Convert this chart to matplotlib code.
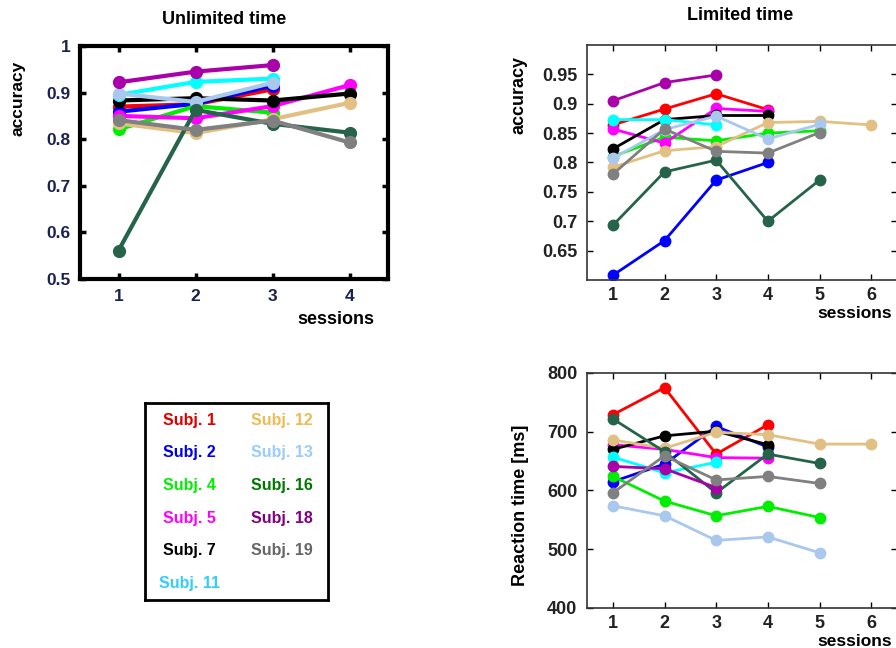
import matplotlib
matplotlib.use("Agg")
import matplotlib.pyplot as plt

plt.rcParams['font.family'] = ['Liberation Sans', 'DejaVu Sans']
plt.rcParams['font.weight'] = 'bold'

subjects = ["Subj. 1", "Subj. 2", "Subj. 4", "Subj. 5", "Subj. 7", "Subj. 11",
            "Subj. 12", "Subj. 13", "Subj. 16", "Subj. 18", "Subj. 19"]
line_colors = ["#ff0000", "#0000ff", "#00ee00", "#ff00ff", "#000000", "#00ffff",
               "#e2c084", "#a8c8ee", "#25644a", "#aa00aa", "#808080"]
legend_colors = ["#dd0000", "#0000ee", "#00ee00", "#ff00ff", "#000000", "#33ccff",
                 "#eebb55", "#99ccff", "#007700", "#800080", "#666666"]

# accuracy, unlimited time
acc_unlimited = [
    [0.870, 0.875, 0.907],
    [0.859, 0.876, 0.915],
    [0.821, 0.871, 0.857],
    [0.850, 0.845, 0.871, 0.916],
    [0.883, 0.888, 0.883, 0.898],
    [0.895, 0.923, 0.930],
    [0.834, 0.813, 0.843, 0.878],
    [0.898, 0.880, 0.921],
    [0.561, 0.863, 0.833, 0.814],
    [0.922, 0.945, 0.959],
    [0.841, 0.820, 0.840, 0.793],
]

# accuracy, limited time
acc_limited = [
    [0.864, 0.891, 0.917, 0.890],
    [0.608, 0.667, 0.770, 0.800],
    [0.810, 0.843, 0.837, 0.850, 0.854],
    [0.857, 0.833, 0.892, 0.887],
    [0.823, 0.873, 0.880, 0.880],
    [0.873, 0.873, 0.864],
    [0.792, 0.820, 0.827, 0.868, 0.870, 0.864],
    [0.807, 0.856, 0.879, 0.840, 0.865],
    [0.693, 0.784, 0.804, 0.700, 0.770],
    [0.905, 0.936, 0.949],
    [0.780, 0.857, 0.819, 0.816, 0.851],
]

# reaction time (ms), limited time
rt_limited = [
    [729, 775, 662, 712],
    [615, 645, 709, 674],
    [624, 582, 557, 573, 554],
    [678, 670, 656, 655],
    [670, 693, 701, 678],
    [657, 630, 648],
    [686, 672, 699, 695, 679, 679],
    [574, 557, 515, 521, 494],
    [722, 666, 596, 662, 646],
    [641, 637, 605],
    [596, 659, 618, 624, 612],
]

W, H = 896, 648
fig = plt.figure(figsize=(W / 100, H / 100), dpi=100)


def box(left, top, right, bottom):
    return [left / W, 1 - bottom / H, (right - left) / W, (bottom - top) / H]


def draw(ax, series, lw, ms):
    for vals, c in zip(series, line_colors):
        x = list(range(1, len(vals) + 1))
        ax.plot(x, vals, color=c, lw=lw, marker='o', ms=ms, mec=c, mfc=c)


# unlimited time panel
ax1 = fig.add_axes(box(80, 46, 388, 279))
draw(ax1, acc_unlimited, 3.0, 8.5)
ax1.set_xlim(0.5, 4.5)
ax1.set_ylim(0.5, 1.0)
ax1.set_xticks([1, 2, 3, 4])
ax1.set_yticks([0.5, 0.6, 0.7, 0.8, 0.9, 1.0])
ax1.set_yticklabels(["0.5", "0.6", "0.7", "0.8", "0.9", "1"])
ax1.tick_params(direction='in', top=True, right=True, length=4, width=2.5,
                labelsize=12.5, labelcolor='#1c2250', pad=7)
for lab in ax1.get_xticklabels() + ax1.get_yticklabels():
    lab.set_fontweight('bold')
for s in ax1.spines.values():
    s.set_linewidth(3)
fig.text(224 / W, 1 - 19 / H, "Unlimited time", ha='center', va='center',
         fontsize=13, fontweight='bold')
fig.text(18 / W, 1 - 98 / H, "accuracy", rotation=90, ha='center', va='center',
         fontsize=12.5, fontweight='bold')
fig.text(336 / W, 1 - 319 / H, "sessions", ha='center', va='center',
         fontsize=13, fontweight='bold')

# limited time panels
ax2 = fig.add_axes(box(587, 45, 897, 280))
draw(ax2, acc_limited, 2.0, 7.5)
ax2.set_ylim(0.6, 1.0)
ax2.set_yticks([0.65, 0.7, 0.75, 0.8, 0.85, 0.9, 0.95])
ax2.set_yticklabels(["0.65", "0.7", "0.75", "0.8", "0.85", "0.9", "0.95"])

ax3 = fig.add_axes(box(587, 373, 897, 608))
draw(ax3, rt_limited, 2.0, 7.5)
ax3.set_ylim(400, 800)
ax3.set_yticks([400, 500, 600, 700, 800])

for ax in (ax2, ax3):
    ax.set_xlim(0.5, 6.5)
    ax.set_xticks([1, 2, 3, 4, 5, 6])
    ax.tick_params(direction='in', top=True, right=True, length=4, width=1,
                   labelsize=13, labelcolor='#222222', pad=7)
    ax.tick_params(axis='x', pad=5)
    for lab in ax.get_xticklabels() + ax.get_yticklabels():
        lab.set_fontweight('bold')
    for s in ax.spines.values():
        s.set_linewidth(1.2)
        s.set_color('#333333')

fig.text(740 / W, 1 - 16 / H, "Limited time", ha='center', va='center',
         fontsize=13, fontweight='bold')
fig.text(519 / W, 1 - 95 / H, "accuracy", rotation=90, ha='center', va='center',
         fontsize=13, fontweight='bold')
fig.text(520 / W, 1 - 505 / H, "Reaction time [ms]", rotation=90, ha='center',
         va='center', fontsize=13, fontweight='bold')
fig.text(855 / W, 1 - 313 / H, "sessions", ha='center', va='center',
         fontsize=12.5, fontweight='bold')
fig.text(855 / W, 1 - 641 / H, "sessions", ha='center', va='center',
         fontsize=12.5, fontweight='bold')

# subject key
key = fig.add_axes(box(145, 403, 328, 600))
key.set_xticks([])
key.set_yticks([])
key.set_xlim(145, 328)
key.set_ylim(600, 403)
for s in key.spines.values():
    s.set_linewidth(2)
rows_y = [421, 453, 486, 519, 551, 584]
for i, (name, c) in enumerate(zip(subjects, legend_colors)):
    if i < 5:
        x, y = 163, rows_y[i]
    elif i == 5:
        x, y = 159, rows_y[5]
    else:
        x, y = 251, rows_y[i - 6]
    key.text(x, y, name, color=c, fontsize=11.5, fontweight='bold',
             ha='left', va='center')

fig.savefig("out.png", dpi=100)
